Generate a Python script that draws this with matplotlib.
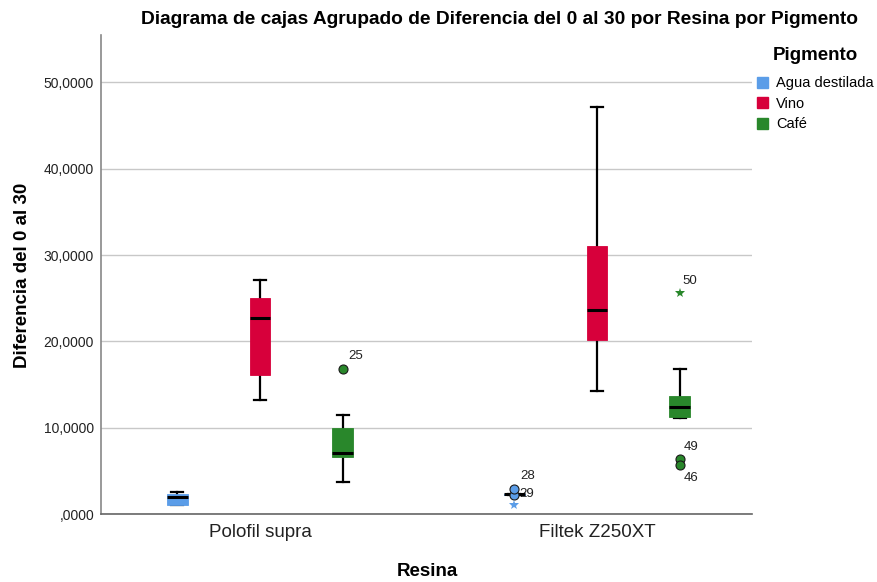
import matplotlib
matplotlib.use("Agg")
import matplotlib.pyplot as plt
from matplotlib.patches import Patch

plt.rcParams['font.family'] = ['Liberation Sans', 'DejaVu Sans']

# Data (units of the y axis)
resinas = ["Polofil supra", "Filtek Z250XT"]
pigmentos = ["Agua destilada", "Vino", "Café"]
colores = ["#5b9de8", "#d7003b", "#29872b"]

# box stats, order: resina -> pigmento
whislo = [1.04, 13.18, 3.70, 2.18, 14.22, 11.18]
q1 = [1.04, 16.07, 6.59, 2.18, 20.12, 11.25]
med = [2.00, 22.66, 7.05, 2.28, 23.58, 12.41]
q3 = [2.28, 24.97, 9.94, 2.36, 31.06, 13.72]
whishi = [2.51, 27.17, 11.45, 2.36, 47.17, 16.84]

# outliers: (box index, value, kind, label)
out_box = [2, 3, 3, 3, 5, 5, 5]
out_val = [16.76, 2.25, 2.95, 1.04, 25.58, 6.36, 5.67]
out_kind = ["o", "o", "o", "*", "*", "o", "o"]
out_lab = ["25", "29", "28", "", "50", "49", "46"]
lab_off = [(5, 13), (5, 1), (6, 13), (0, 0), (3, 12), (4, 12), (4, -13)]

yticks = [0, 10, 20, 30, 40, 50]
ytick_labels = [",0000", "10,0000", "20,0000", "30,0000", "40,0000", "50,0000"]

offsets = [-0.246, 0.0, 0.246]
positions = [g + o for g in range(len(resinas)) for o in offsets]

fig = plt.figure(figsize=(8.78, 5.82), dpi=100)
ax = fig.add_axes([101 / 878, 68 / 582, 651 / 878, 479 / 582])

stats = []
for i in range(len(med)):
    stats.append({'whislo': whislo[i], 'q1': q1[i], 'med': med[i],
                  'q3': q3[i], 'whishi': whishi[i], 'fliers': []})

bp = ax.bxp(stats, positions=positions, widths=0.062, capwidths=0.036,
            patch_artist=True, showfliers=False,
            medianprops={'color': 'black', 'linewidth': 2.2},
            whiskerprops={'color': 'black', 'linewidth': 1.6},
            capprops={'color': 'black', 'linewidth': 1.6},
            boxprops={'linewidth': 0.6})
for i, box in enumerate(bp['boxes']):
    c = colores[i % 3]
    box.set_facecolor(c)
    box.set_edgecolor(c)
    box.set_zorder(3)
for m in bp['medians']:
    m.set_zorder(4)

# outliers and case labels
for b, v, k, lab, off in zip(out_box, out_val, out_kind, out_lab, lab_off):
    c = colores[b % 3]
    x = positions[b]
    if lab:
        ax.annotate(lab, (x, v), xytext=off, textcoords='offset pixels',
                    ha='left', va='center', fontsize=9.5, color='#222222',
                    zorder=2)
    if k == "o":
        ax.plot(x, v, 'o', markersize=6.5, markerfacecolor=c,
                markeredgecolor='#1a1a1a', markeredgewidth=0.8, zorder=5)
    else:
        ax.plot(x, v, '*', markersize=7, color=c, markeredgewidth=0, zorder=5)

ax.set_xlim(-0.472, 1.46)
ax.set_ylim(0, 55.5)
ax.set_xticks(range(len(resinas)))
ax.set_xticklabels(resinas, fontsize=13.5, color='#222222')
ax.set_yticks(yticks)
ax.set_yticklabels(ytick_labels, fontsize=10, color='#222222')
ax.tick_params(axis='both', length=0)
ax.tick_params(axis='y', pad=5)
ax.tick_params(axis='x', pad=7)
ax.grid(axis='y', color='#c8c8c8', linewidth=1)
ax.set_axisbelow(True)
for s in ['top', 'right']:
    ax.spines[s].set_visible(False)
ax.spines['left'].set_color('#888888')
ax.spines['bottom'].set_color('#666666')
ax.spines['left'].set_linewidth(1.2)
ax.spines['bottom'].set_linewidth(1.2)

fig.text(500 / 878, 1 - 19 / 582,
         "Diagrama de cajas Agrupado de Diferencia del 0 al 30 por Resina por Pigmento",
         ha='center', va='center', fontsize=13.8, fontweight='bold')
fig.text(23 / 878, 1 - 275 / 582, "Diferencia del 0 al 30", rotation=90,
         ha='center', va='center', fontsize=13.5, fontweight='bold')
fig.text(427 / 878, 1 - 571 / 582, "Resina", ha='center', va='center',
         fontsize=13.5, fontweight='bold')

# legend
fig.text(815 / 878, 1 - 55 / 582, "Pigmento", ha='center', va='center',
         fontsize=13.5, fontweight='bold')
handles = [Patch(facecolor=c, edgecolor=c) for c in colores]
leg = fig.legend(handles, pigmentos, loc='upper left',
                 bbox_to_anchor=(750 / 878, 1 - 69 / 582), frameon=False,
                 borderpad=0, fontsize=10.5,
                 handlelength=0.75, handleheight=0.75, handletextpad=0.55,
                 labelspacing=0.45)

fig.savefig("out.png", dpi=100)
